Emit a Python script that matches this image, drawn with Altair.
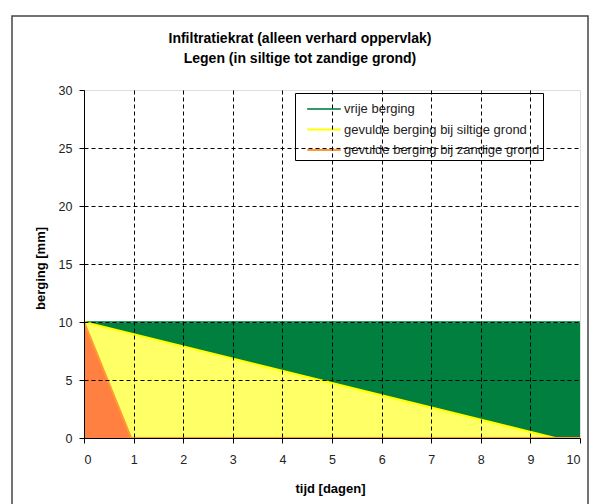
import altair as alt
import pandas as pd

# ---- data ----
series_names = [
    "vrije berging",
    "gevulde berging bij siltige grond",
    "gevulde berging bij zandige grond",
]
vrij_tijd = [0, 10]
vrij_berging = [10, 10]
silt_tijd = [0, 9.5, 10]
silt_berging = [10, 0, 0]
zand_tijd = [0, 0.95, 10]
zand_berging = [10, 0, 0]

x_ticks = list(range(0, 11))
y_ticks = [0, 5, 10, 15, 20, 25, 30]

title_lines = ["Infiltratiekrat (alleen verhard oppervlak)", "Legen (in siltige tot zandige grond)"]
x_title = "tijd [dagen]"
y_title = "berging [mm]"

# ---- styles ----
fill_colors = ["#007f3f", "#ffff66", "#ff8040"]
line_colors = ["#339966", "#ffff00", "#ff9933"]
FONT = "Liberation Sans"

rows = []
for name, xs, ys in [
    (series_names[0], vrij_tijd, vrij_berging),
    (series_names[1], silt_tijd, silt_berging),
    (series_names[2], zand_tijd, zand_berging),
]:
    for xv, yv in zip(xs, ys):
        rows.append({"series": name, "tijd": xv, "berging": yv})
df = pd.DataFrame(rows)

grid_hide_x = {"condition": {"test": "datum.value == 0 || datum.value == 10", "value": 0}, "value": 1}
grid_hide_y = {"condition": {"test": "datum.value == 0 || datum.value == 30", "value": 0}, "value": 1}

x_enc = alt.X(
    "tijd:Q",
    scale=alt.Scale(domain=[0, 10], nice=False, zero=False),
    axis=alt.Axis(
        values=x_ticks, title=x_title, format="d",
        grid=True, gridColor="#000000", gridDash=[4, 3], gridWidth=1, gridOpacity=grid_hide_x,
        domainColor="#000000", tickColor="#000000", tickSize=5, labelPadding=10,
        labelFont=FONT, labelFontSize=12.5, labelColor="#222222",
        titleFont=FONT, titleFontSize=13, titleFontWeight="bold", titleColor="#000000",
        titleX=246, titleY=50, titleBaseline="middle", titleAlign="center",
        zindex=1,
    ),
)
y_enc = alt.Y(
    "berging:Q",
    scale=alt.Scale(domain=[0, 30], nice=False),
    axis=alt.Axis(
        values=y_ticks, title=y_title, format="d",
        grid=True, gridColor="#000000", gridDash=[4, 3], gridWidth=1, gridOpacity=grid_hide_y,
        domainColor="#000000", tickColor="#000000", tickSize=5, labelPadding=7,
        labelFont=FONT, labelFontSize=12.5, labelColor="#222222",
        titleFont=FONT, titleFontSize=13, titleFontWeight="bold", titleColor="#000000",
        titleX=-44, titleY=178, titleAngle=-90, titleBaseline="middle", titleAlign="center",
        zindex=1,
    ),
)

base = alt.Chart(df)

areas = []
for name, col in zip(series_names, fill_colors):
    areas.append(
        base.transform_filter(alt.datum.series == name)
        .mark_area(color=col, opacity=1, interpolate="linear")
        .encode(x=x_enc, y=y_enc)
    )

lines = base.mark_line(strokeWidth=2).encode(
    x=x_enc,
    y=y_enc,
    color=alt.Color(
        "series:N",
        scale=alt.Scale(domain=series_names, range=line_colors),
        legend=alt.Legend(
            title=None, orient="none", legendX=211, legendY=3,
            strokeColor="#000000", fillColor="#ffffff", padding=3, cornerRadius=0,
            symbolType="M-1.4,0H1.4", symbolSize=576, symbolStrokeWidth=2,
            symbolOffset=13, labelOffset=7, rowPadding=0.5,
            labelFont=FONT, labelFontSize=13, labelColor="#222222", labelLimit=400,
        ),
    ),
    order=alt.Order("tijd:Q"),
)

frame = alt.Chart(alt.Data(values=[{}])).mark_rect(
    filled=False, stroke="#444444", strokeWidth=1.5
).encode(
    x=alt.value(-72), x2=alt.value(504), y=alt.value(-74), y2=alt.value(420)
)

chart = (
    alt.layer(*areas, lines, frame)
    .properties(
        width=496,
        height=348,
        autosize=alt.AutoSizeParams(type="none"),
        padding={"left": 84, "top": 90, "right": 10, "bottom": 66},
        title=alt.TitleParams(
            text=title_lines, font=FONT, fontSize=14, fontWeight="bold", color="#000000",
            anchor="middle", frame="group", dx=-32, offset=-65, lineHeight=20, baseline="bottom",
        ),
    )
    .configure_view(stroke="#999999", strokeWidth=1)
    .configure(background="#ffffff")
)

chart.save("out.html", embed_options={"renderer": "svg", "actions": False})
